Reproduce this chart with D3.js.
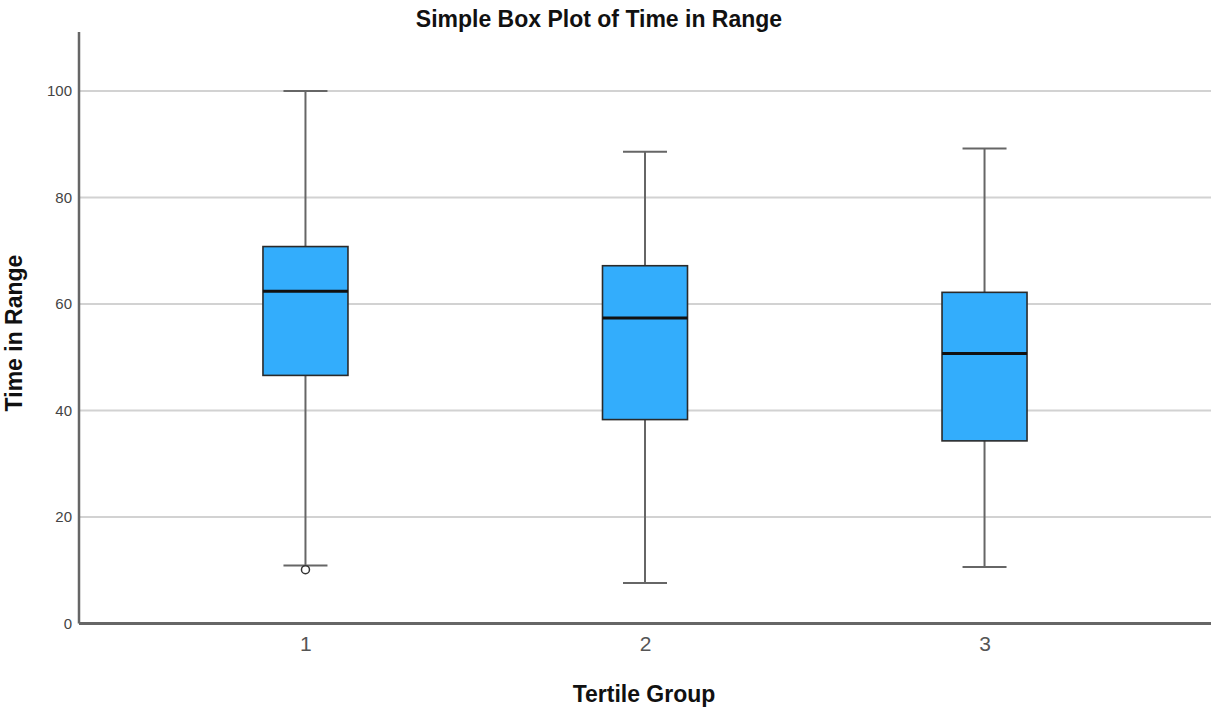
<!DOCTYPE html>
<html>
<head>
<meta charset="utf-8">
<script src="https://cdn.jsdelivr.net/npm/d3@7"></script>
<style>
  html, body { margin: 0; padding: 0; background: #fff; }
  svg { display: block; }
</style>
</head>
<body>
<svg id="chart" width="1214" height="709"></svg>
<script>
// Tertile groups and their five-number summaries (Time in Range, %)
const groups = ["1", "2", "3"];
const whiskerLow = [10.9, 7.6, 10.6];
const quartile1 = [46.6, 38.3, 34.3];
const medians = [62.4, 57.4, 50.7];
const quartile3 = [70.8, 67.2, 62.2];
const whiskerHigh = [100, 88.6, 89.2];
// Outliers: [group, value]
const outliers = [["1", 10.1]];
const yTicks = [0, 20, 40, 60, 80, 100];

const svg = d3.select("#chart");
const plotLeft = 79, plotRight = 1211, plotTop = 32, plotBottom = 623.5;

const y = d3.scaleLinear().domain([0, 111.1]).range([plotBottom, plotTop]);
const x = d3.scalePoint().domain(groups).range([plotLeft, plotRight]).padding(0.667);

const boxW = 85, capW = 44;
const font = "Arial, 'Liberation Sans', sans-serif";

// Horizontal gridlines
svg.append("g").selectAll("line").data(yTicks.filter(d => d > 0)).join("line")
  .attr("x1", plotLeft).attr("x2", plotRight)
  .attr("y1", d => y(d)).attr("y2", d => y(d))
  .attr("stroke", "#d2d2d2").attr("stroke-width", 2);

// Y axis tick labels
const yAxis = d3.axisLeft(y).tickValues(yTicks).tickSize(0).tickPadding(7);
const gy = svg.append("g").attr("transform", `translate(${plotLeft},0)`).call(yAxis);
gy.select(".domain").remove();
gy.selectAll("text").attr("font-family", font).attr("font-size", 15).attr("fill", "#444");

// X axis tick labels
const xAxis = d3.axisBottom(x).tickSize(0).tickPadding(13);
const gx = svg.append("g").attr("transform", `translate(0,${plotBottom})`).call(xAxis);
gx.select(".domain").remove();
gx.selectAll("text").attr("font-family", font).attr("font-size", 21).attr("fill", "#555");

const data = groups.map((g, i) => ({
  g, lo: whiskerLow[i], q1: quartile1[i], med: medians[i], q3: quartile3[i], hi: whiskerHigh[i]
}));

const box = svg.append("g").selectAll("g").data(data).join("g");

// Whisker stems
box.append("line")
  .attr("x1", d => x(d.g)).attr("x2", d => x(d.g))
  .attr("y1", d => y(d.hi)).attr("y2", d => y(d.q3))
  .attr("stroke", "#666").attr("stroke-width", 2);
box.append("line")
  .attr("x1", d => x(d.g)).attr("x2", d => x(d.g))
  .attr("y1", d => y(d.q1)).attr("y2", d => y(d.lo))
  .attr("stroke", "#666").attr("stroke-width", 2);

// Whisker caps
box.append("line")
  .attr("x1", d => x(d.g) - capW / 2).attr("x2", d => x(d.g) + capW / 2)
  .attr("y1", d => y(d.hi)).attr("y2", d => y(d.hi))
  .attr("stroke", "#666").attr("stroke-width", 2);
box.append("line")
  .attr("x1", d => x(d.g) - capW / 2).attr("x2", d => x(d.g) + capW / 2)
  .attr("y1", d => y(d.lo)).attr("y2", d => y(d.lo))
  .attr("stroke", "#666").attr("stroke-width", 2);

// Interquartile boxes
box.append("rect")
  .attr("x", d => x(d.g) - boxW / 2)
  .attr("y", d => y(d.q3))
  .attr("width", boxW)
  .attr("height", d => y(d.q1) - y(d.q3))
  .attr("fill", "#33adfc").attr("stroke", "#2a2a2a").attr("stroke-width", 1.6);

// Medians
box.append("line")
  .attr("x1", d => x(d.g) - boxW / 2).attr("x2", d => x(d.g) + boxW / 2)
  .attr("y1", d => y(d.med)).attr("y2", d => y(d.med))
  .attr("stroke", "#111").attr("stroke-width", 3);

// Outlier markers
svg.append("g").selectAll("circle").data(outliers).join("circle")
  .attr("cx", d => x(d[0])).attr("cy", d => y(d[1]))
  .attr("r", 4).attr("fill", "#fff").attr("stroke", "#333").attr("stroke-width", 1.5);

// Axis lines
svg.append("line").attr("x1", plotLeft).attr("x2", plotLeft).attr("y1", plotTop).attr("y2", plotBottom)
  .attr("stroke", "#666").attr("stroke-width", 2.5);
svg.append("line").attr("x1", plotLeft).attr("x2", plotRight).attr("y1", plotBottom).attr("y2", plotBottom)
  .attr("stroke", "#666").attr("stroke-width", 3);

// Titles
svg.append("text").attr("x", 599).attr("y", 27).attr("text-anchor", "middle")
  .attr("font-family", font).attr("font-weight", "bold").attr("font-size", 23).attr("fill", "#111")
  .text("Simple Box Plot of Time in Range");
svg.append("text").attr("x", 644).attr("y", 702).attr("text-anchor", "middle")
  .attr("font-family", font).attr("font-weight", "bold").attr("font-size", 23).attr("fill", "#111")
  .text("Tertile Group");
svg.append("text").attr("transform", "translate(22,333) rotate(-90)").attr("text-anchor", "middle")
  .attr("font-family", font).attr("font-weight", "bold").attr("font-size", 23).attr("fill", "#111")
  .text("Time in Range");
</script>
</body>
</html>
